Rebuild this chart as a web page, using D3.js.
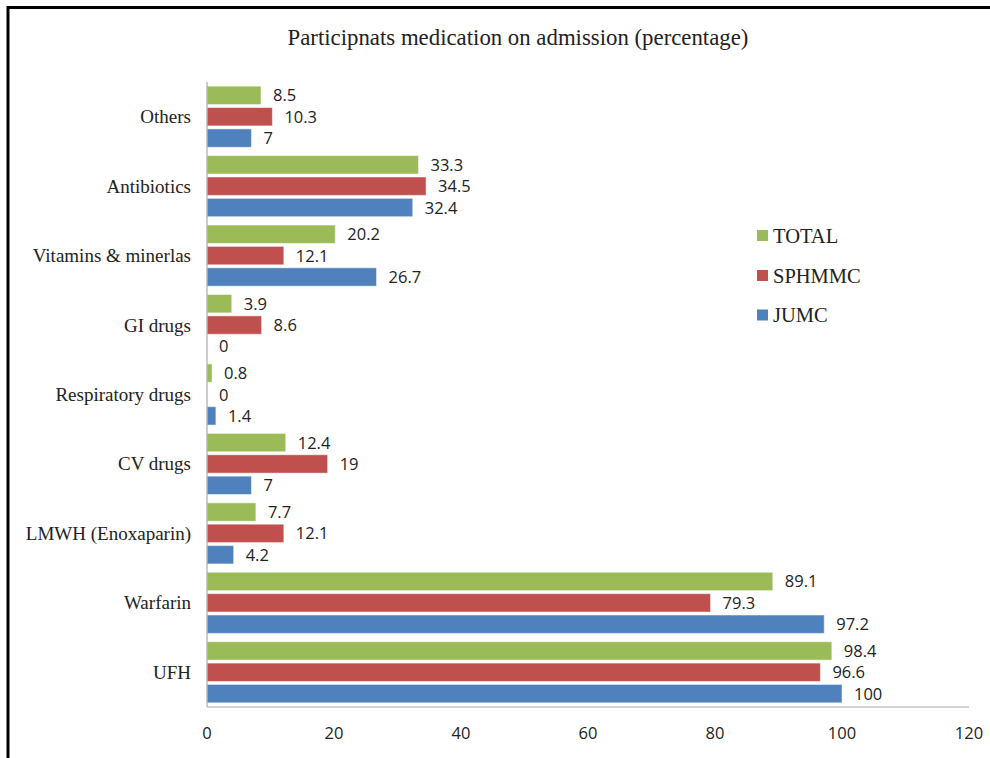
<!DOCTYPE html>
<html><head><meta charset="utf-8">
<script src="https://cdn.jsdelivr.net/npm/d3@7"></script>
<style>body{margin:0;background:#fff}svg{display:block}</style>
</head><body>
<svg id="c" width="990" height="758"></svg>
<script>
const categories = ["Others","Antibiotics","Vitamins & minerlas","GI drugs","Respiratory drugs","CV drugs","LMWH (Enoxaparin)","Warfarin","UFH"];
const seriesNames = ["TOTAL","SPHMMC","JUMC"];
const total  = [8.5,33.3,20.2,3.9,0.8,12.4,7.7,89.1,98.4];
const sphmmc = [10.3,34.5,12.1,8.6,0,19,12.1,79.3,96.6];
const jumc   = [7,32.4,26.7,0,1.4,7,4.2,97.2,100];
const xTicks = [0,20,40,60,80,100,120];
const colors = ["#9BBB59","#C0504D","#4F81BD"];
const title = "Participnats medication on admission (percentage)";

const svg = d3.select("#c");
// frame (top and left edges visible)
svg.append("line").attr("x1",7).attr("x2",990).attr("y1",7.5).attr("y2",7.5).attr("stroke","#000").attr("stroke-width",3);
svg.append("line").attr("x1",8).attr("x2",8).attr("y1",6).attr("y2",758).attr("stroke","#000").attr("stroke-width",3);

svg.append("text").attr("x",518).attr("y",45).attr("text-anchor","middle")
  .attr("font-family","Liberation Serif").attr("font-size",22.8).attr("fill","#222").text(title);

const x = d3.scaleLinear().domain([0,120]).range([207,969]);
const y = d3.scaleBand().domain(categories).range([82,707]).paddingInner(0.12).paddingOuter(0.06);
const y1 = d3.scaleBand().domain(seriesNames).range([0,y.bandwidth()]).paddingInner(0.14);

const numFont = "Open Sans, Liberation Sans";
const data = categories.map((c,i)=>({c, vals:[total[i],sphmmc[i],jumc[i]]}));
const g = svg.append("g");
data.forEach(d=>{
  d.vals.forEach((v,j)=>{
    const yy = y(d.c)+y1(seriesNames[j]);
    if (v>0) g.append("rect").attr("x",x(0)).attr("y",yy).attr("width",x(v)-x(0)).attr("height",y1.bandwidth())
      .attr("fill",colors[j]).attr("stroke","#fff").attr("stroke-opacity",0.5).attr("stroke-width",1);
    g.append("text").attr("x",x(v)+12).attr("y",yy+y1.bandwidth()/2+6)
      .attr("font-family",numFont).attr("font-size",16.5).attr("fill","#222").text(v);
  });
});

// axes
svg.append("line").attr("x1",207).attr("x2",207).attr("y1",82).attr("y2",707).attr("stroke","#aaa").attr("stroke-width",1.2);
svg.append("line").attr("x1",207).attr("x2",969).attr("y1",707).attr("y2",707).attr("stroke","#aaa").attr("stroke-width",1.2);

svg.selectAll(".xt").data(xTicks).enter().append("text")
  .attr("x",d=>x(d)).attr("y",739).attr("text-anchor","middle")
  .attr("font-family",numFont).attr("font-size",16.5).attr("fill","#222").text(d=>d);

svg.selectAll(".cl").data(categories).enter().append("text")
  .attr("x",191).attr("y",d=>y(d)+y.bandwidth()/2+6.5).attr("text-anchor","end")
  .attr("font-family","Liberation Serif").attr("font-size",19).attr("fill","#222").text(d=>d);

// legend
const legY = [235.5,275.5,315];
seriesNames.forEach((s,j)=>{
  svg.append("rect").attr("x",757).attr("y",legY[j]-5.5).attr("width",11).attr("height",11).attr("fill",colors[j]);
  svg.append("text").attr("x",773).attr("y",legY[j]+7).attr("font-family","Liberation Serif").attr("font-size",20.5).attr("fill","#222").text(s);
});
</script>
</body></html>
